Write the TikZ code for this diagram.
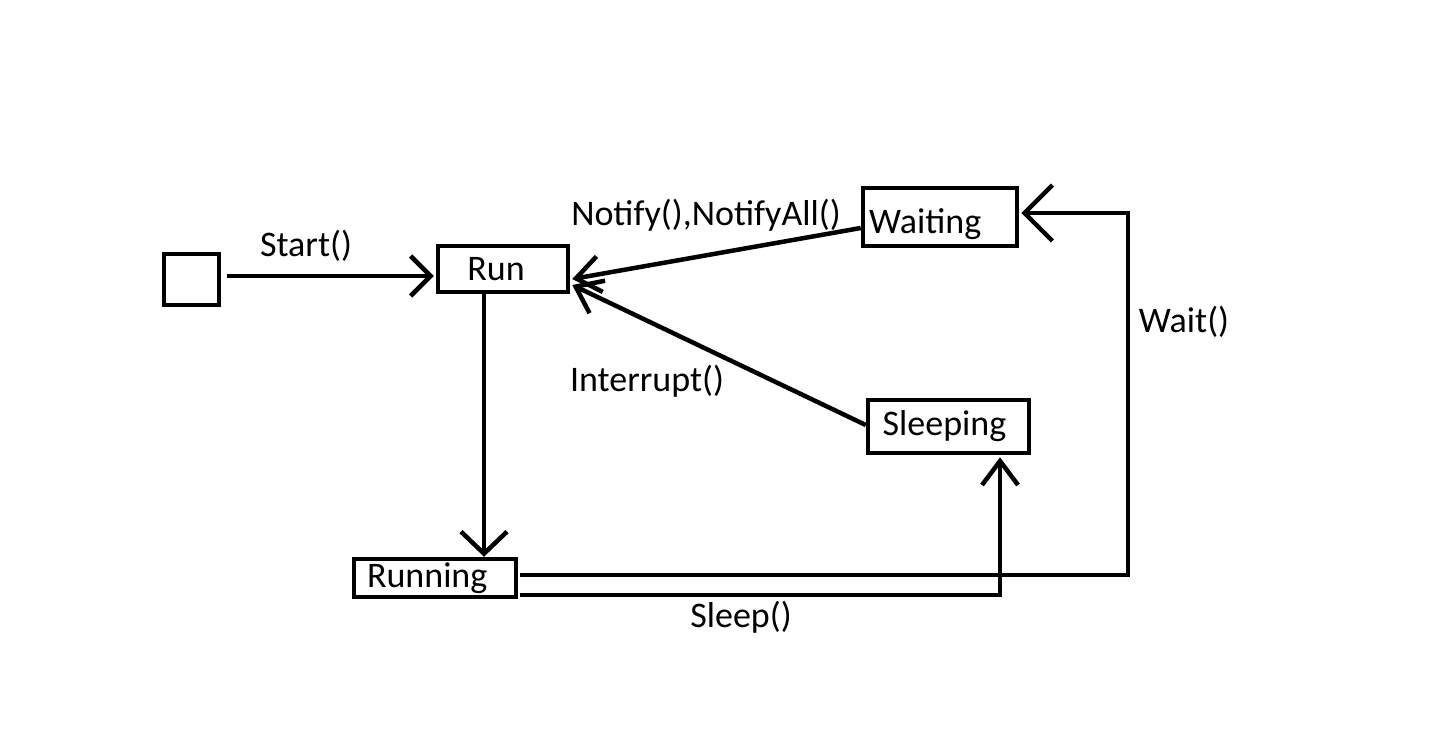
\documentclass[tikz,border=0pt]{standalone}
\usepackage{fontspec}
\setmainfont{Carlito}
\usetikzlibrary{arrows.meta,calc}
\begin{document}
\begin{tikzpicture}[x=1pt,y=-1pt,
  every node/.style={font=\fontsize{36}{42}\selectfont},
  state/.style={draw,line width=4.5pt,rectangle,inner sep=0pt},
  conn/.style={line width=4.5pt},
  lbl/.style={inner sep=0pt,anchor=center},
  barbA/.style={-{Straight Barb[length=20pt,width=40pt]}},
  barbB/.style={-{Straight Barb[length=22pt,width=46pt]}},
  barbC/.style={-{Straight Barb[length=28pt,width=56pt]}},
  barbD/.style={-{Straight Barb[length=24pt,width=36pt]}}]
\path[use as bounding box,fill=white] (0,0) rectangle (1429,738);

\node[state,minimum width=55pt,minimum height=51pt] (init) at (191.5,279.5) {};
\node[state,minimum width=130pt,minimum height=46pt] (run) at (503,269) {\hspace*{-14pt}Run};
\node[state,minimum width=154pt,minimum height=58pt,text width=142pt,align=left] (waiting) at (940,217) {\raisebox{-17pt}[0pt][0pt]{Waiting}};
\node[state,minimum width=161pt,minimum height=53pt] (sleeping) at (948.5,426.5) {\hspace*{-8pt}Sleeping};
\node[state,minimum width=162pt,minimum height=38pt,text width=136pt,align=left] (running) at (435,578) {Running};

\coordinate (wc) at (1128,213);
\coordinate (rs) at ($(run.south)+(-19,0)$);

\draw[conn,barbA] ($(init.east)+(6,-3.5)$) -- ($(run.west)+(-2,7)$);
\draw[conn,barbB] (rs) -- (rs |- running.north);
\draw[conn,barbD] ($(waiting.west)+(0,11)$) -- ($(run.east)+(2,10)$);
\draw[conn,barbD] ($(sleeping.west)+(0,-1.5)$) -- ($(run.east)+(2,16)$);
\draw[conn,barbD] ($(running.east)+(2,17)$) -| ($(sleeping.south)+(51.5,2)$);
\draw[conn,barbC] ($(running.east)+(2,-3)$) -| (wc) -- ($(wc -| waiting.east)+(2,0)$);

\node[lbl] (lstart) at (306,246) {Start()};
\node[lbl] (lnotify) at (706,215) {Notify(),NotifyAll()};
\node[lbl] (lint) at (647,381) {Interrupt()};
\node[lbl] (lwait) at (1184,322) {Wait()};
\node[lbl] (lsleep) at (741,617) {Sleep()};
\end{tikzpicture}
\end{document}
